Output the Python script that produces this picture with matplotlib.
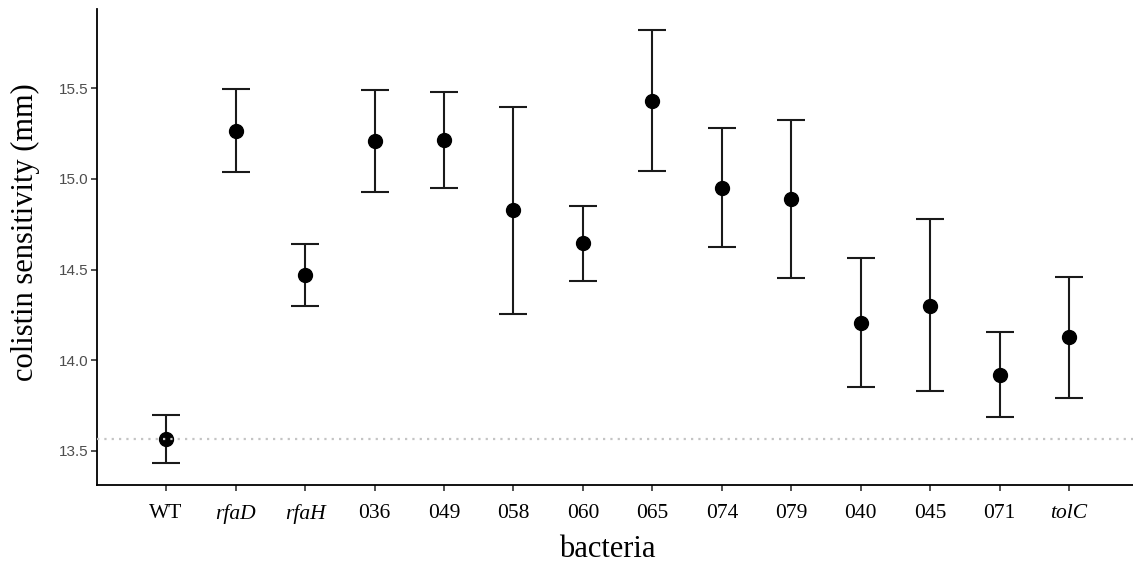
import matplotlib
matplotlib.use("Agg")
import matplotlib.pyplot as plt

strains = ["WT", "rfaD", "rfaH", "036", "049", "058", "060", "065", "074", "079", "040", "045", "071", "tolC"]
italic_strains = ["rfaD", "rfaH", "tolC"]
means = [13.563, 15.262, 14.470, 15.207, 15.215, 14.827, 14.646, 15.432, 14.951, 14.887, 14.206, 14.300, 13.919, 14.126]
upper = [13.695, 15.494, 14.642, 15.489, 15.478, 15.397, 14.852, 15.820, 15.279, 15.325, 14.565, 14.777, 14.153, 14.460]
lower = [13.434, 15.036, 14.297, 14.926, 14.951, 14.254, 14.438, 15.044, 14.622, 14.455, 13.850, 13.828, 13.686, 13.791]
wt_reference = 13.566
yticks = [13.5, 14.0, 14.5, 15.0, 15.5]

fig = plt.figure(figsize=(11.33, 5.69), dpi=100)
ax = fig.add_axes([96.7 / 1133, 84 / 569, 1 - 96.7 / 1133, 476 / 569])

xs = list(range(len(strains)))
yerr = [[m - l for m, l in zip(means, lower)], [u - m for m, u in zip(means, upper)]]
ax.errorbar(xs, means, yerr=yerr, fmt="o", color="black", ecolor="#1a1a1a",
            markersize=10, elinewidth=1.5, capsize=10, capthick=1.5, zorder=3)
ax.axhline(wt_reference, color="#C4C4C4", linestyle=(0, (1, 2.3)), linewidth=1.6, zorder=4)

ax.set_xlim(-1.0, 13.92)
ax.set_ylim(13.311, 15.938)
ax.set_xticks(xs)
ax.set_xticklabels(strains, fontfamily="Liberation Serif", fontsize=15.5, color="black")
for lab in ax.get_xticklabels():
    if lab.get_text() in italic_strains:
        lab.set_fontstyle("italic")
ax.set_yticks(yticks)
ax.set_yticklabels([f"{v:.1f}" for v in yticks], fontfamily="Liberation Sans", fontsize=11, color="#4D4D4D")

ax.tick_params(axis="x", length=4, width=1.2, color="#333333", pad=10)
ax.tick_params(axis="y", length=4, width=1.2, color="#333333", pad=2)

for s in ["top", "right"]:
    ax.spines[s].set_visible(False)
for s in ["left", "bottom"]:
    ax.spines[s].set_linewidth(1.3)
    ax.spines[s].set_color("black")

ax.set_xlabel("bacteria", fontfamily="Liberation Serif", fontsize=22)
ax.set_ylabel("colistin sensitivity (mm)", fontfamily="Liberation Serif", fontsize=22)
ax.xaxis.set_label_coords((607.5 - 96.7) / 1036.3, -0.105)
ax.yaxis.set_label_coords(-0.0551, 0.5315)

fig.savefig("out.png", dpi=100)
